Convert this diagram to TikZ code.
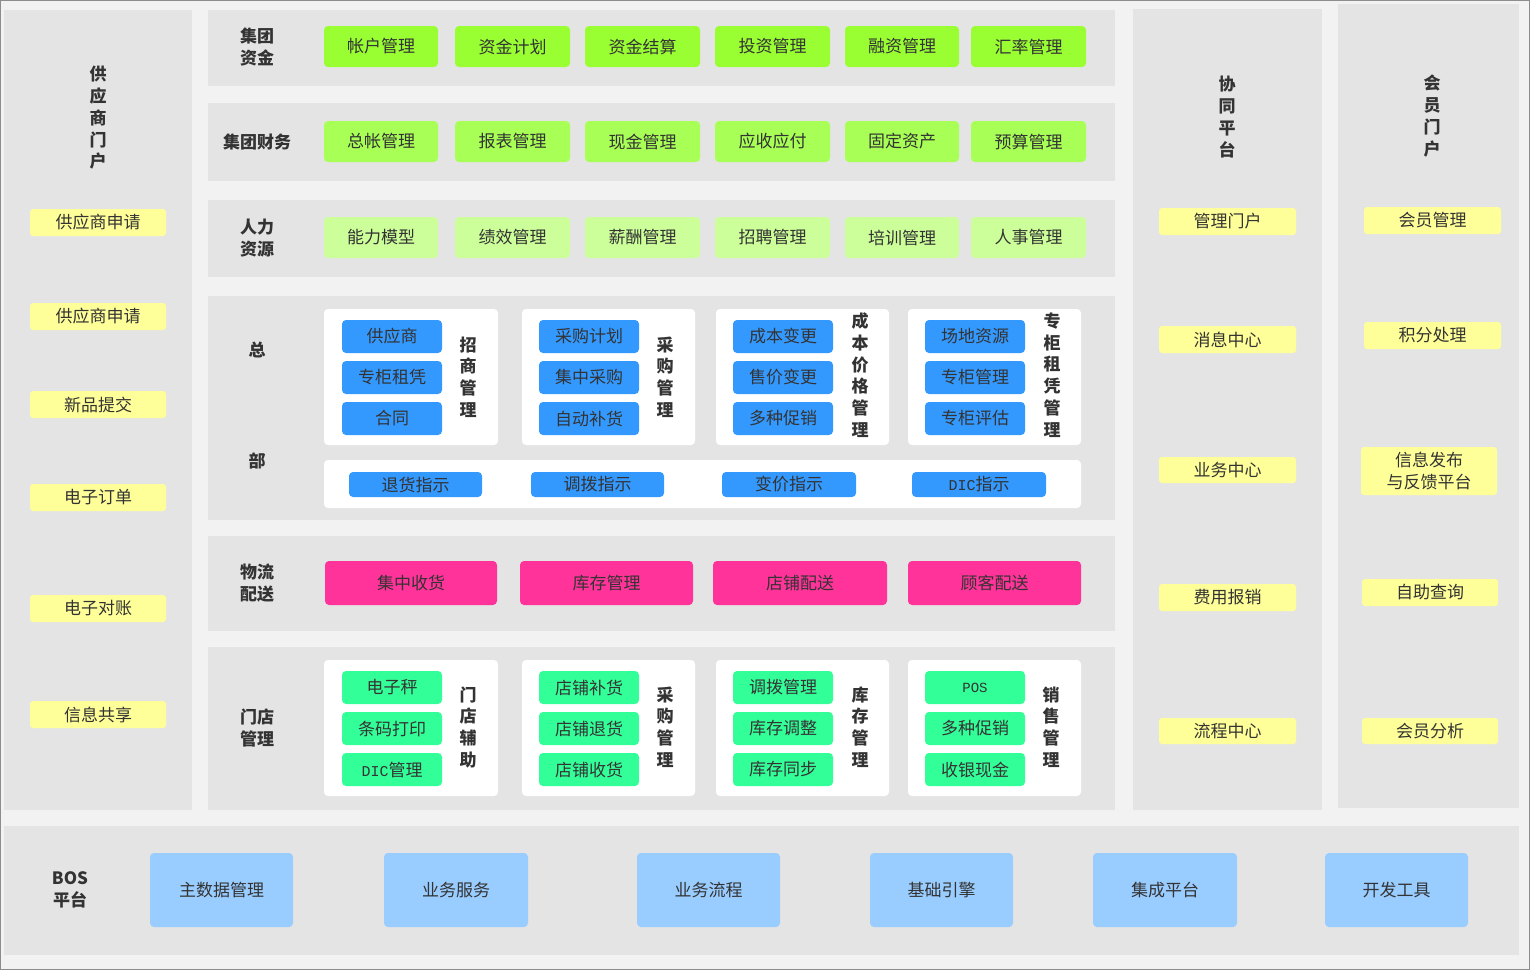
\documentclass[tikz,border=0pt]{standalone}
\usepackage{fontspec}
\setmainfont{Noto Sans CJK SC}
\newfontfamily\monof{Liberation Mono}
\definecolor{bgc}{HTML}{F2F2F2}
\definecolor{panelc}{HTML}{E4E4E4}
\definecolor{bordc}{HTML}{8C8C8C}
\definecolor{txt}{HTML}{333333}
\definecolor{gA}{HTML}{99FF33}
\definecolor{gB}{HTML}{A8FF55}
\definecolor{gC}{HTML}{CCFF99}
\definecolor{blueb}{HTML}{3399FF}
\definecolor{pinkb}{HTML}{FF3399}
\definecolor{mintb}{HTML}{33FF99}
\definecolor{yelb}{HTML}{FFFF99}
\definecolor{lblue}{HTML}{99CCFF}
\newcommand\bx[7]{\node[#1,minimum width={#5-#3},minimum height={#6-#4}] (#2) at ({(#3+#5)/2},{(#4+#6)/2}) {#7};}
\begin{document}
\begin{tikzpicture}[x=1pt,y=-1pt,
  every node/.style={inner sep=0pt,outer sep=0pt,text=txt,font=\fontsize{17}{22}\selectfont},
  panel/.style={fill=panelc},
  wbox/.style={fill=white,rounded corners=4pt},
  btn/.style={rounded corners=4pt},
  g1/.style={btn,fill=gA},
  g2/.style={btn,fill=gB},
  g3/.style={btn,fill=gC},
  bb/.style={btn,fill=blueb},
  pk/.style={btn,fill=pinkb},
  mt/.style={btn,fill=mintb},
  yl/.style={btn,rounded corners=3pt,fill=yelb},
  lb/.style={btn,fill=lblue},
  lbl/.style={font=\fontsize{17}{22}\selectfont\bfseries,align=center},
  vlbl/.style={font=\fontsize{17}{21.7}\selectfont\bfseries,align=center},
  mono/.style={}]
\useasboundingbox (0,0) rectangle (1530,970);
\fill[bgc] (0,0) rectangle (1530,970);
\draw[bordc,line width=1.2pt] (0.6,0.6) rectangle (1529.4,969.4);
% panels
\bx{panel}{pL}{4}{10}{192}{810}{}
\bx{panel}{r1}{208}{10}{1115}{86}{}
\bx{panel}{r2}{208}{103}{1115}{181}{}
\bx{panel}{r3}{208}{200}{1115}{277}{}
\bx{panel}{r4}{208}{296}{1115}{520}{}
\bx{panel}{r5}{208}{536}{1115}{631}{}
\bx{panel}{r6}{208}{647}{1115}{810}{}
\bx{panel}{pX}{1133}{9}{1322}{810}{}
\bx{panel}{pM}{1338}{4}{1519}{808}{}
\bx{panel}{pB}{4}{826}{1519}{955}{}
% row labels
\node[lbl] (l1) at (257,47) {集团\\资金};
\node[lbl] (l2) at (257,142) {集团财务};
\node[lbl] (l3) at (257,238) {人力\\资源};
\node[lbl] (l4a) at (257,350) {总};
\node[lbl] (l4b) at (257,461) {部};
\node[lbl] (l5) at (257,583) {物流\\配送};
\node[lbl] (l6) at (257,728) {门店\\管理};
\node[lbl] (l7) at (70,890) {BOS\\平台};
% row 1
\bx{g1}{a1}{324}{26}{438}{67}{帐户管理}
\bx{g1}{a2}{455}{26}{570}{67}{资金计划}
\bx{g1}{a3}{585}{26}{700}{67}{资金结算}
\bx{g1}{a4}{715}{26}{830}{67}{投资管理}
\bx{g1}{a5}{845}{26}{959}{67}{融资管理}
\bx{g1}{a6}{971}{26}{1086}{67}{汇率管理}
% row 2
\bx{g2}{b1}{324}{121}{438}{162}{总帐管理}
\bx{g2}{b2}{455}{121}{570}{162}{报表管理}
\bx{g2}{b3}{585}{121}{700}{162}{现金管理}
\bx{g2}{b4}{715}{121}{830}{162}{应收应付}
\bx{g2}{b5}{845}{121}{959}{162}{固定资产}
\bx{g2}{b6}{971}{121}{1086}{162}{预算管理}
% row 3
\bx{g3}{c1}{324}{217}{438}{258}{能力模型}
\bx{g3}{c2}{455}{217}{570}{258}{绩效管理}
\bx{g3}{c3}{585}{217}{700}{258}{薪酬管理}
\bx{g3}{c4}{715}{217}{830}{258}{招聘管理}
\bx{g3}{c5}{845}{217}{959}{258}{培训管理}
\bx{g3}{c6}{971}{217}{1086}{258}{人事管理}
% row 4
\bx{wbox}{w1}{324}{309}{498}{445}{}
\bx{wbox}{w2}{522}{309}{695}{445}{}
\bx{wbox}{w3}{716}{309}{889}{445}{}
\bx{wbox}{w4}{908}{309}{1081}{445}{}
\bx{bb}{d11}{342}{320}{442}{353}{供应商}
\bx{bb}{d12}{342}{361}{442}{394}{专柜租凭}
\bx{bb}{d13}{342}{402}{442}{435}{合同}
\bx{bb}{d21}{539}{320}{639}{353}{采购计划}
\bx{bb}{d22}{539}{361}{639}{394}{集中采购}
\bx{bb}{d23}{539}{402}{639}{435}{自动补货}
\bx{bb}{d31}{733}{320}{833}{353}{成本变更}
\bx{bb}{d32}{733}{361}{833}{394}{售价变更}
\bx{bb}{d33}{733}{402}{833}{435}{多种促销}
\bx{bb}{d41}{925}{320}{1025}{353}{场地资源}
\bx{bb}{d42}{925}{361}{1025}{394}{专柜管理}
\bx{bb}{d43}{925}{402}{1025}{435}{专柜评估}
\node[vlbl] (v41) at (468,377) {招\\商\\管\\理};
\node[vlbl] (v42) at (665,377) {采\\购\\管\\理};
\node[vlbl] (v43) at (860,375) {成\\本\\价\\格\\管\\理};
\node[vlbl] (v44) at (1052,375) {专\\柜\\租\\凭\\管\\理};
\bx{wbox}{w5}{324}{460}{1081}{508}{}
\bx{bb}{e1}{349}{472}{482}{497}{退货指示}
\bx{bb}{e2}{531}{472}{664}{497}{调拨指示}
\bx{bb}{e3}{722}{472}{856}{497}{变价指示}
\bx{bb}{e4}{912}{472}{1046}{497}{{\monof\fontsize{15}{22}\selectfont DIC}指示}
% row 5
\bx{pk}{f1}{325}{561}{497}{605}{集中收货}
\bx{pk}{f2}{520}{561}{693}{605}{库存管理}
\bx{pk}{f3}{713}{561}{887}{605}{店铺配送}
\bx{pk}{f4}{908}{561}{1081}{605}{顾客配送}
% row 6
\bx{wbox}{x1}{324}{660}{498}{796}{}
\bx{wbox}{x2}{522}{660}{695}{796}{}
\bx{wbox}{x3}{716}{660}{889}{796}{}
\bx{wbox}{x4}{908}{660}{1081}{796}{}
\bx{mt}{h11}{342}{671}{442}{704}{电子秤}
\bx{mt}{h12}{342}{712}{442}{745}{条码打印}
\bx{mt}{h13}{342}{753}{442}{786}{{\monof\fontsize{15}{22}\selectfont DIC}管理}
\bx{mt}{h21}{539}{671}{639}{704}{店铺补货}
\bx{mt}{h22}{539}{712}{639}{745}{店铺退货}
\bx{mt}{h23}{539}{753}{639}{786}{店铺收货}
\bx{mt}{h31}{733}{671}{833}{704}{调拨管理}
\bx{mt}{h32}{733}{712}{833}{745}{库存调整}
\bx{mt}{h33}{733}{753}{833}{786}{库存同步}
\bx{mt}{h41}{925}{671}{1025}{704}{{\monof\fontsize{14}{22}\selectfont POS}}
\bx{mt}{h42}{925}{712}{1025}{745}{多种促销}
\bx{mt}{h43}{925}{753}{1025}{786}{收银现金}
\node[vlbl] (v61) at (468,727) {门\\店\\辅\\助};
\node[vlbl] (v62) at (665,727) {采\\购\\管\\理};
\node[vlbl] (v63) at (860,727) {库\\存\\管\\理};
\node[vlbl] (v64) at (1051,727) {销\\售\\管\\理};
% left portal
\node[vlbl] (vL) at (98,118) {供\\应\\商\\门\\户};
\bx{yl}{y1}{30}{209}{166}{236}{供应商申请}
\bx{yl}{y2}{30}{303}{166}{330}{供应商申请}
\bx{yl}{y3}{30}{391}{166}{418}{新品提交}
\bx{yl}{y4}{30}{484}{166}{511}{电子订单}
\bx{yl}{y5}{30}{595}{166}{622}{电子对账}
\bx{yl}{y6}{30}{701}{166}{728}{信息共享}
% collaboration platform
\node[vlbl] (vX) at (1227,117) {协\\同\\平\\台};
\bx{yl}{z1}{1159}{208}{1296}{235}{管理门户}
\bx{yl}{z2}{1159}{326}{1296}{353}{消息中心}
\bx{yl}{z3}{1159}{457}{1296}{483}{业务中心}
\bx{yl}{z4}{1159}{584}{1296}{611}{费用报销}
\bx{yl}{z5}{1159}{718}{1296}{744}{流程中心}
% member portal
\node[vlbl] (vM) at (1432,116) {会\\员\\门\\户};
\bx{yl}{m1}{1364}{207}{1501}{234}{会员管理}
\bx{yl}{m2}{1364}{322}{1501}{349}{积分处理}
\bx{yl,align=center}{m3}{1361}{447}{1497}{495}{信息发布\\与反馈平台}
\bx{yl}{m4}{1362}{579}{1498}{606}{自助查询}
\bx{yl}{m5}{1362}{718}{1498}{744}{会员分析}
% BOS
\bx{lb}{k1}{150}{853}{293}{927}{主数据管理}
\bx{lb}{k2}{384}{853}{528}{927}{业务服务}
\bx{lb}{k3}{637}{853}{780}{927}{业务流程}
\bx{lb}{k4}{870}{853}{1013}{927}{基础引擎}
\bx{lb}{k5}{1093}{853}{1237}{927}{集成平台}
\bx{lb}{k6}{1325}{853}{1468}{927}{开发工具}
\end{tikzpicture}
\end{document}
